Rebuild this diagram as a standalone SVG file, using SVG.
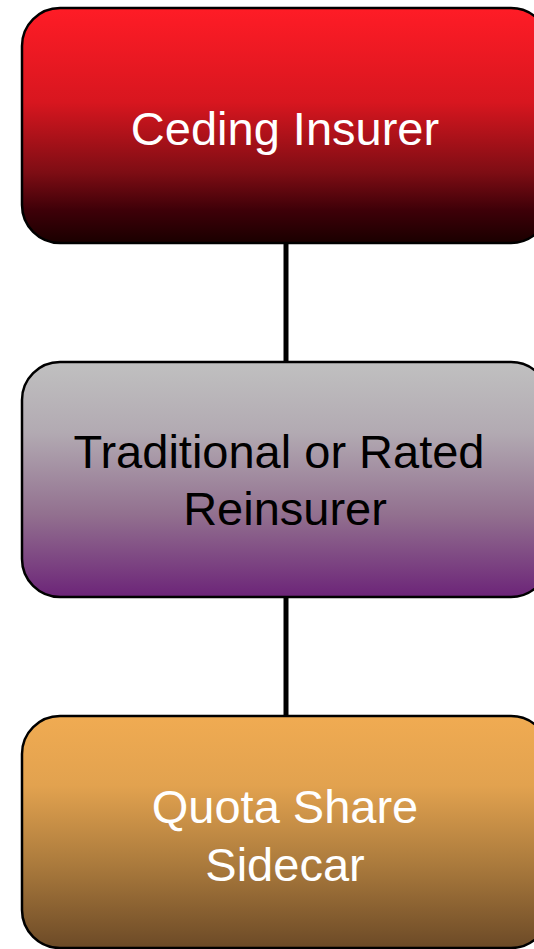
<svg xmlns="http://www.w3.org/2000/svg" width="534" height="949" viewBox="0 0 534 949">
  <defs>
    <linearGradient id="gradRed" x1="0" y1="0" x2="0" y2="1">
      <stop offset="0" stop-color="#ff1c26"/>
      <stop offset="0.4" stop-color="#d8161f"/>
      <stop offset="0.7" stop-color="#7e0d14"/>
      <stop offset="0.86" stop-color="#3e0008"/>
      <stop offset="1" stop-color="#1a0000"/>
    </linearGradient>
    <linearGradient id="gradPurple" x1="0" y1="0" x2="0" y2="1">
      <stop offset="0" stop-color="#c0c0c0"/>
      <stop offset="0.3" stop-color="#b2aab2"/>
      <stop offset="0.65" stop-color="#92708f"/>
      <stop offset="1" stop-color="#6c2478"/>
    </linearGradient>
    <linearGradient id="gradGold" x1="0" y1="0" x2="0" y2="1">
      <stop offset="0" stop-color="#f0ab52"/>
      <stop offset="0.3" stop-color="#e2a24f"/>
      <stop offset="0.65" stop-color="#a9793c"/>
      <stop offset="1" stop-color="#6c4a27"/>
    </linearGradient>
  </defs>
  <style>
    .box { stroke: #000; stroke-width: 2.5; }
    .label { font-size: 47px; text-anchor: middle; }
    .light { fill: #ffffff; }
    .dark { fill: #000000; }
    .link { stroke: #000; stroke-width: 5; fill: none; }
  </style>

  <!-- connectors -->
  <g id="connectors">
    <line class="link" x1="286" y1="243" x2="286" y2="362"/>
    <line class="link" x1="286" y1="597" x2="286" y2="716"/>
  </g>

  <g font-family="'Liberation Sans', Arimo, Arial, Helvetica, sans-serif">
    <g id="ceding-insurer">
      <rect class="box" x="22" y="8" width="527" height="235" rx="38" ry="38" fill="url(#gradRed)"/>
      <text class="label light" x="285" y="145">Ceding Insurer</text>
    </g>

    <g id="traditional-reinsurer">
      <rect class="box" x="22" y="362" width="527" height="235" rx="38" ry="38" fill="url(#gradPurple)"/>
      <text class="label dark" x="279" y="468">Traditional or Rated</text>
      <text class="label dark" x="285" y="525">Reinsurer</text>
    </g>

    <g id="quota-share-sidecar">
      <rect class="box" x="22" y="716" width="527" height="232" rx="38" ry="38" fill="url(#gradGold)"/>
      <text class="label light" x="285" y="823">Quota Share</text>
      <text class="label light" x="285" y="881">Sidecar</text>
    </g>
  </g>
</svg>
